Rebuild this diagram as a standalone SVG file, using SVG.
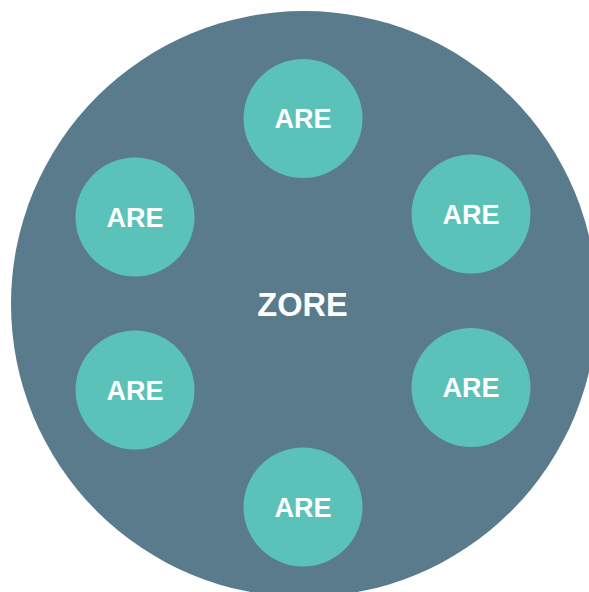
<svg xmlns="http://www.w3.org/2000/svg" width="589" height="592" viewBox="0 0 589 592">
<style>
.n{fill:#5AC2B9}
.t{fill:#FFFFFF;font-family:"Liberation Sans",Arial,sans-serif;font-weight:bold;text-anchor:middle}
.s{font-size:27px}
</style>
<rect width="589" height="592" fill="#FFFFFF"/>
<g id="zore">
<circle cx="304" cy="304" r="293" fill="#597B8C"/>
<text class="t" x="302.5" y="315.5" font-size="32.5">ZORE</text>
</g>
<g id="connectors"></g>
<g id="are1"><circle class="n" cx="303" cy="118.5" r="59.5"/><text class="t s" x="303" y="128.3">ARE</text></g>
<g id="are2"><circle class="n" cx="135" cy="217" r="59.5"/><text class="t s" x="135" y="226.8">ARE</text></g>
<g id="are3"><circle class="n" cx="471" cy="214" r="59.5"/><text class="t s" x="471" y="223.8">ARE</text></g>
<g id="are4"><circle class="n" cx="135" cy="390" r="59.5"/><text class="t s" x="135" y="399.8">ARE</text></g>
<g id="are5"><circle class="n" cx="471" cy="387.5" r="59.5"/><text class="t s" x="471" y="397.3">ARE</text></g>
<g id="are6"><circle class="n" cx="303" cy="507" r="59.5"/><text class="t s" x="303" y="516.8">ARE</text></g>
</svg>
